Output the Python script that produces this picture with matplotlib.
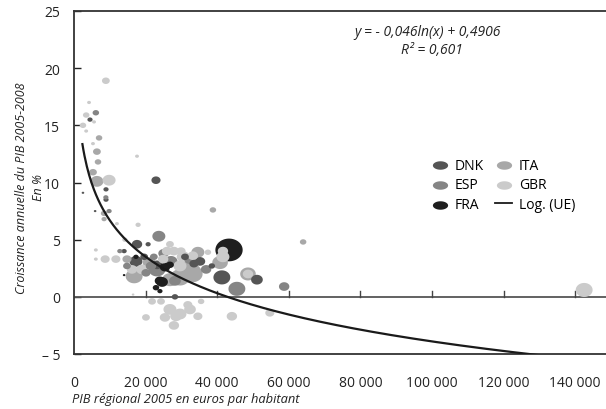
import numpy as np
import matplotlib
matplotlib.use("Agg")
import matplotlib.pyplot as plt
from matplotlib.path import Path

plt.rcParams['font.family'] = ['Open Sans', 'DejaVu Sans']

# ---------------- data ----------------
dnk_x = [4470, 22900, 8940, 8940, 17600, 41300, 51100, 38500, 17300, 23200, 14000, 19600, 28200, 2500, 5900, 20700, 35200, 31000, 33500]
dnk_y = [15.5, 10.2, 9.4, 8.5, 4.6, 1.7, 1.5, 2.7, 3.1, 2.8, 4.0, 3.5, 0.0, 9.1, 7.5, 4.6, 3.1, 3.5, 2.9]
dnk_s = [4, 7, 4, 4, 8, 13, 9, 5, 10, 8, 4, 6, 5, 2, 2, 4, 8, 6, 7]

esp_x = [23700, 58700, 45500, 9800, 12800, 22300, 27100, 21500, 14800, 20100, 23200, 32400, 8900, 6100, 36900, 28200, 25000]
esp_y = [5.3, 0.9, 0.7, 7.5, 4.0, 3.5, 3.1, 2.7, 2.7, 2.1, 2.4, 3.3, 8.7, 16.1, 2.4, 1.4, 3.8]
esp_s = [10, 8, 13, 4, 4, 6, 10, 8, 6, 7, 13, 9, 4, 5, 8, 9, 8]

ita_x = [7000, 6400, 6700, 5300, 6400, 8400, 8400, 38800, 64000, 34600, 32400, 33200, 16800, 40800, 14800, 26800, 29600, 48600, 31000, 21000]
ita_y = [13.9, 12.7, 11.8, 10.9, 10.1, 7.3, 6.8, 7.6, 4.8, 3.9, 2.1, 2.0, 1.8, 3.0, 3.3, 1.5, 1.7, 2.0, 2.8, 3.0]
ita_s = [5, 6, 5, 6, 10, 5, 4, 5, 5, 10, 18, 15, 13, 12, 7, 12, 15, 12, 12, 10]

gbr_x = [8900, 4200, 3400, 5600, 2500, 3400, 5300, 17600, 9800, 12000, 17900, 14200, 6100, 6100, 8700,
         11700, 16200, 26000, 27900, 29900, 24900, 29600, 41600, 41600, 48600, 37400, 142500, 21800,
         24300, 20100, 26800, 29600, 32400, 25400, 27900, 28500, 44100, 35500, 34600, 54700, 16500,
         31800, 33200, 26800, 30500, 19000]
gbr_y = [18.9, 17.0, 15.9, 15.3, 15.0, 14.5, 13.4, 12.3, 10.2, 6.4, 6.3, 5.0, 4.1, 3.3, 3.3,
         3.3, 2.4, 4.0, 4.0, 4.0, 3.3, 2.7, 4.0, 3.5, 2.0, 3.9, 0.6, -0.4,
         -0.4, -1.8, -1.1, -1.5, -1.1, -1.8, -2.5, -1.7, -1.7, -0.4, -1.7, -1.4, 0.2,
         -0.7, 3.6, 4.6, 3.5, 2.4]
gbr_s = [6, 3, 5, 3, 5, 3, 3, 3, 10, 3, 4, 4, 3, 3, 7,
         7, 8, 8, 8, 7, 8, 10, 8, 10, 8, 5, 13, 6,
         6, 6, 10, 10, 9, 8, 8, 9, 8, 5, 7, 7, 2,
         7, 8, 6, 10, 9]

fra_x = [43300, 24000, 24600, 22900, 24000, 17300, 25400, 26800, 14000]
fra_y = [4.1, 1.4, 1.3, 0.8, 0.5, 3.5, 2.6, 2.8, 1.9]
fra_s = [21, 8, 9, 5, 4, 4, 8, 6, 2]

countries = ['DNK', 'ESP', 'FRA', 'ITA', 'GBR']
colors = {'DNK': '#555555', 'ESP': '#858585', 'FRA': '#1e1e1e', 'ITA': '#a8a8a8', 'GBR': '#cbcbcb'}
series = {'DNK': (dnk_x, dnk_y, dnk_s), 'ESP': (esp_x, esp_y, esp_s), 'FRA': (fra_x, fra_y, fra_s),
          'ITA': (ita_x, ita_y, ita_s), 'GBR': (gbr_x, gbr_y, gbr_s)}

coef_a = -0.046
coef_b = 0.4906
fit_xmin, fit_xmax = 2300, 130000

xticks = [0, 20000, 40000, 60000, 80000, 100000, 120000, 140000]
xticklabels = ['0', '20 000', '40 000', '60 000', '80 000', '100 000', '120 000', '140 000']
yticks = [-5, 0, 5, 10, 15, 20, 25]
yticklabels = ['\u2013 5', '0', '5', '10', '15', '20', '25']

# ---------------- figure ----------------
fig = plt.figure(figsize=(6.06, 4.10), dpi=100)
ax = fig.add_axes([74 / 606, 55 / 410, 1 - 74 / 606, 343 / 410])

# elliptical marker (slightly wider than tall)
th = np.linspace(0, 2 * np.pi, 60)
ell = Path(np.column_stack([1.2 * np.cos(th), np.sin(th)]))

# gather all points, draw largest first
pts = []
for c in countries:
    xs, ys, ss = series[c]
    for x, y, s in zip(xs, ys, ss):
        pts.append((s, x, y, colors[c]))
pts.sort(key=lambda p: -p[0])
px = [p[1] for p in pts]
py = [p[2] for p in pts]
ps = [(p[0] * 0.72 * 1.3) ** 2 for p in pts]
pc = [p[3] for p in pts]
ax.scatter(px, py, s=ps, c=pc, marker=ell, linewidths=0, zorder=3)

# log fit
xf = np.linspace(fit_xmin, fit_xmax, 400)
yf = (coef_a * np.log(xf) + coef_b) * 100
ax.plot(xf, yf, color='#1a1a1a', lw=1.6, zorder=4, solid_capstyle='butt')

# zero line with ticks
ax.axhline(0, color='#555555', lw=1.3, zorder=2)
for t in xticks[1:]:
    ax.plot([t, t], [0, 0.55], color='#444444', lw=1.0, zorder=2)

ax.set_xlim(0, 148600)
ax.set_ylim(-5, 25)
ax.set_xticks(xticks)
ax.set_xticklabels(xticklabels)
ax.set_yticks(yticks)
ax.set_yticklabels(yticklabels)
ax.tick_params(axis='x', length=0, pad=15, labelsize=10, colors='#222222')
ax.tick_params(axis='y', direction='in', length=5, width=1, pad=10, labelsize=10, colors='#222222')
for sp in ['left', 'top', 'bottom']:
    ax.spines[sp].set_color('#333333')
    ax.spines[sp].set_linewidth(1.3)
ax.spines['right'].set_visible(False)

# legend
handles = []
labels = []
leg_marker = Path(np.column_stack([1.8 * np.cos(th), np.sin(th)]))
for c in ['DNK', 'ESP', 'FRA', 'ITA', 'GBR']:
    h = ax.scatter([], [], s=120, c=colors[c], marker=leg_marker, linewidths=0)
    handles.append(h)
    labels.append(c)
line_h, = ax.plot([], [], color='#1a1a1a', lw=1.3)
handles.append(line_h)
labels.append('Log. (UE)')
leg = ax.legend(handles, labels, ncol=2, frameon=False, loc='upper left',
                bbox_to_anchor=(419 / 606, 1 - 146 / 410), bbox_transform=fig.transFigure,
                fontsize=10, handlelength=1.2, handletextpad=0.5, columnspacing=0.8,
                labelspacing=0.35, scatterpoints=1)

# equation
fig.text(428 / 606, 1 - 33 / 410, 'y = - 0,046ln(x) + 0,4906', ha='center', va='center',
         fontsize=10, style='italic', color='#222222')
fig.text(432 / 606, 1 - 51 / 410, 'R\u00b2 = 0,601', ha='center', va='center',
         fontsize=10, style='italic', color='#222222')

# axis labels
fig.text(30 / 606, 1 - 188 / 410, 'Croissance annuelle du PIB 2005-2008\nEn %', rotation=90,
         ha='center', va='center', multialignment='center', fontsize=9, style='italic',
         color='#222222', linespacing=1.45)
fig.text(72 / 606, 1 - 400 / 410, 'PIB r\u00e9gional 2005 en euros par habitant', ha='left',
         va='center', fontsize=9.3, style='italic', color='#222222')

fig.savefig('out.png', dpi=100)
